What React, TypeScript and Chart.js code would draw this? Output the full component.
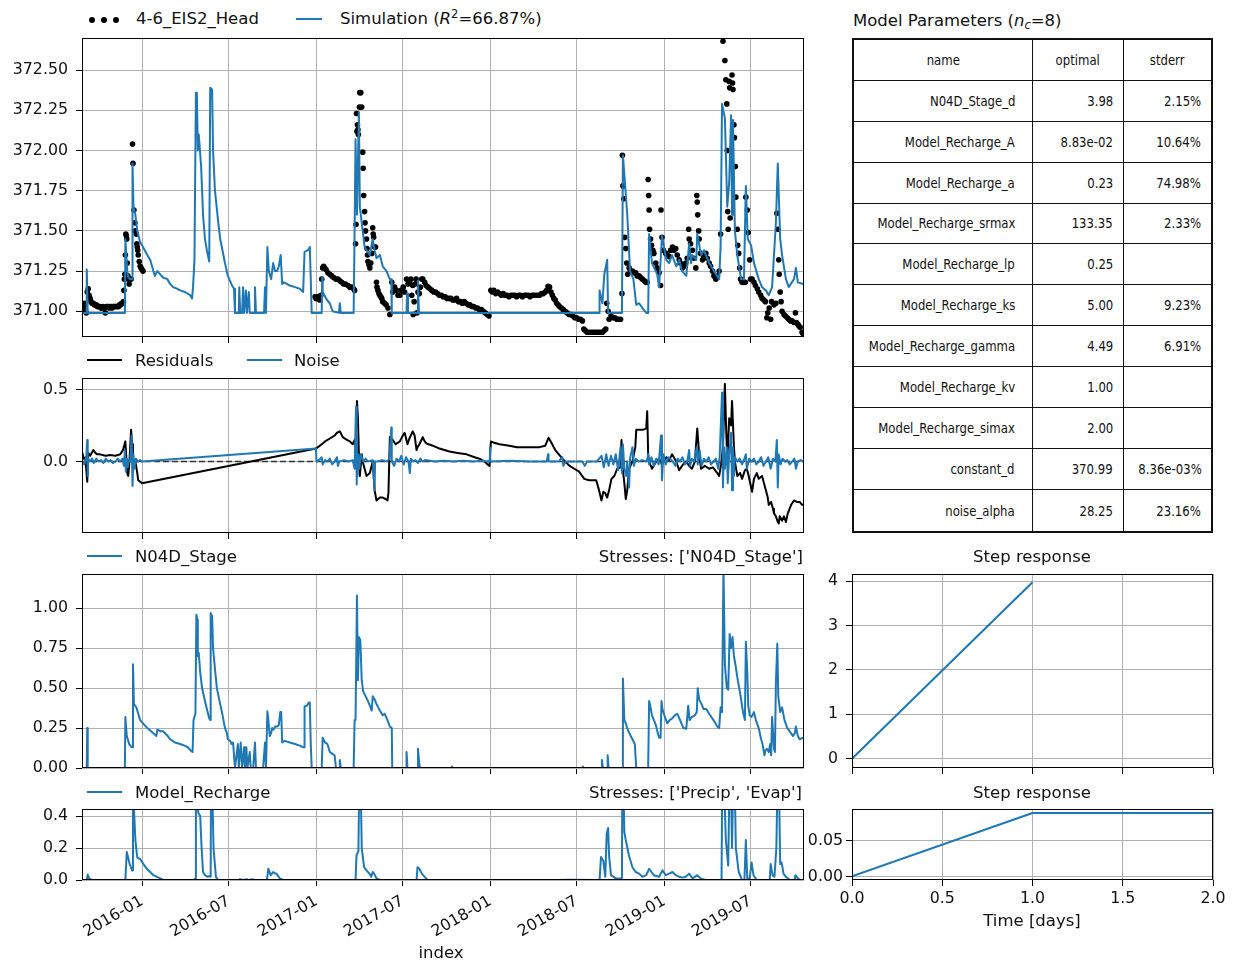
import { useEffect, useRef } from "react";
import { Chart, registerables } from "chart.js";

Chart.register(...registerables);

const FONT_FAMILY = "'DejaVu Sans', 'Liberation Sans', sans-serif";
const FONT_SIZE = 15.8;
const LABEL_SIZE = 16.5;
const TEXT = "#111";
const BLUE = "#1f77b4";
const GRID = "#b0b0b0";

type Pt = [number, number];

// Time index: whole days counted from the first day of the series.
const SERIES_START = "2015-08-28";
const DAY_COUNT = 1515;
const monthTicks = ["2016-01", "2016-07", "2017-01", "2017-07", "2018-01", "2018-07", "2019-01", "2019-07"];

// Observed head (4-6_EIS2_Head)
const headObs: Pt[] = [
  [1, 371.05], [2, 371.02], [3, 371.0], [5, 371.03], [7, 371.05], [9, 370.99], [11, 371.12], [13, 371.14], [15, 371.1], [17, 371.08],
  [19, 371.06], [21, 371.05], [24, 371.05], [26, 371.04], [28, 371.04], [30, 371.04], [32, 371.03], [34, 371.03], [36, 371.03], [38, 371.03],
  [40, 371.02], [42, 371.02], [44, 371.03], [47, 371.02], [49, 370.99], [51, 371.03], [53, 371.03], [55, 371.03], [57, 371.02], [59, 371.03],
  [61, 371.03], [63, 371.02], [65, 371.03], [67, 371.03], [69, 371.03], [71, 371.03], [73, 371.03], [75, 371.03], [77, 371.03], [79, 371.04],
  [81, 371.04], [83, 371.05], [85, 371.05], [87, 371.06], [88, 371.13], [89, 371.2], [90, 371.23], [91, 371.35], [92, 371.48], [93, 371.47],
  [94, 371.45], [95, 371.3], [96, 371.22], [97, 371.2], [99, 371.17], [101, 371.2], [103, 371.2], [106, 372.04], [107, 371.92], [109, 371.63],
  [111, 371.55], [112, 371.5], [114, 371.48], [115, 371.42], [116, 371.4], [117, 371.38], [118, 371.35], [120, 371.31], [122, 371.28], [124, 371.27],
  [126, 371.26], [128, 371.25],
  [489, 371.09], [491, 371.08], [493, 371.08], [495, 371.09], [497, 371.08], [499, 371.07], [501, 371.1], [503, 371.2], [505, 371.27], [507, 371.28],
  [509, 371.27], [512, 371.26], [516, 371.24], [520, 371.23], [524, 371.22], [528, 371.21], [533, 371.2], [537, 371.2], [541, 371.19], [545, 371.18],
  [549, 371.17], [553, 371.17], [558, 371.16], [562, 371.15], [566, 371.15], [570, 371.14], [572, 371.13], [574, 371.42], [575, 371.54], [576, 372.23],
  [577, 372.12], [578, 372.16], [579, 372.13], [580, 372.1], [582, 372.27], [583, 372.36], [585, 372.36], [587, 372.27], [589, 371.99], [590, 371.89],
  [591, 371.72], [593, 371.62], [594, 371.55], [595, 371.5], [597, 371.45], [598, 371.39], [599, 371.35], [600, 371.31], [602, 371.29], [604, 371.27],
  [606, 371.3], [608, 371.36], [610, 371.52], [611, 371.48], [612, 371.46], [614, 371.4], [616, 371.4], [618, 371.18], [619, 371.15], [621, 371.13],
  [623, 371.11], [625, 371.1], [627, 371.09], [629, 371.08], [631, 371.06], [635, 371.05], [638, 371.04], [642, 371.02], [646, 370.98], [650, 371.18],
  [652, 371.12], [656, 371.15], [660, 371.13], [663, 371.1], [667, 371.1], [670, 371.13], [674, 371.15], [677, 371.12], [681, 371.2], [684, 371.17],
  [687, 371.18], [690, 371.2], [692, 371.1], [694, 371.16], [695, 370.98], [697, 371.06], [699, 371.17], [701, 371.2], [703, 370.99], [705, 371.12],
  [708, 371.11], [710, 371.15], [713, 371.2], [715, 371.2],
  [719, 371.18], [722, 371.16], [726, 371.15], [730, 371.14], [734, 371.13], [738, 371.12], [742, 371.12], [746, 371.11], [750, 371.1], [754, 371.1],
  [758, 371.09], [762, 371.09], [766, 371.08], [770, 371.08], [774, 371.08], [778, 371.07], [782, 371.07], [786, 371.08], [790, 371.06], [794, 371.06],
  [798, 371.05], [802, 371.06], [806, 371.05], [810, 371.04], [814, 371.04], [818, 371.03], [822, 371.03], [826, 371.02], [830, 371.02], [834, 371.01],
  [838, 371.01], [842, 371.0], [846, 370.99], [850, 370.98], [854, 370.97],
  [858, 371.13], [861, 371.12], [864, 371.13], [868, 371.11], [872, 371.12], [876, 371.11], [880, 371.1], [884, 371.11], [888, 371.1], [892, 371.1],
  [896, 371.09], [900, 371.1], [904, 371.1], [908, 371.1], [912, 371.09], [916, 371.1], [920, 371.1], [924, 371.09], [928, 371.1], [932, 371.1],
  [936, 371.1], [940, 371.09], [944, 371.1], [948, 371.1], [952, 371.1], [956, 371.1], [960, 371.1], [964, 371.11], [968, 371.11], [972, 371.12],
  [975, 371.13], [978, 371.155], [981, 371.15], [984, 371.12], [987, 371.1], [990, 371.08], [993, 371.07], [996, 371.05], [999, 371.04], [1002, 371.03],
  [1006, 371.02], [1010, 371.01], [1014, 371.0], [1018, 370.99], [1022, 370.98], [1026, 370.98], [1030, 370.97], [1034, 370.96], [1038, 370.96], [1042, 370.95],
  [1046, 370.95], [1050, 370.94], [1053, 370.89], [1056, 370.88], [1060, 370.87], [1064, 370.87], [1068, 370.87], [1072, 370.87], [1076, 370.87], [1080, 370.87],
  [1084, 370.87], [1088, 370.87], [1092, 370.87], [1096, 370.88], [1099, 370.89], [1101, 371.05], [1104, 371.0], [1106, 370.95], [1110, 370.97], [1114, 370.96],
  [1118, 370.96], [1122, 370.95], [1126, 370.95],
  [1130, 370.95], [1133, 371.11], [1134, 371.97], [1135, 371.78], [1137, 371.7], [1139, 371.46], [1141, 371.39], [1143, 371.3], [1145, 371.23], [1148, 371.27],
  [1151, 371.25], [1155, 371.25], [1158, 371.24], [1162, 371.24], [1165, 371.22], [1169, 371.22], [1172, 371.21], [1176, 371.2], [1180, 371.19], [1183, 371.18],
  [1186, 371.18], [1188, 371.82], [1189, 371.72], [1190, 371.63], [1191, 371.51], [1193, 371.45], [1195, 371.41], [1198, 371.38], [1200, 371.36], [1204, 371.3],
  [1207, 371.27], [1211, 371.24], [1214, 371.16], [1215, 371.63], [1217, 371.46], [1220, 371.38], [1225, 371.36], [1228, 371.35], [1232, 371.34], [1235, 371.38],
  [1239, 371.4], [1242, 371.38], [1246, 371.39], [1249, 371.35], [1253, 371.32], [1256, 371.3], [1260, 371.27], [1263, 371.28], [1267, 371.3], [1270, 371.33],
  [1273, 371.51], [1274, 371.45], [1277, 371.42], [1281, 371.38], [1284, 371.33], [1288, 371.27], [1290, 371.72], [1291, 371.68], [1292, 371.6], [1294, 371.5],
  [1295, 371.45], [1298, 371.36], [1302, 371.32], [1305, 371.34], [1309, 371.36], [1312, 371.33], [1316, 371.3], [1319, 371.28], [1323, 371.25], [1326, 371.22],
  [1330, 371.2], [1333, 371.22], [1337, 371.25], [1340, 371.48], [1345, 372.68], [1349, 372.56], [1351, 372.44], [1353, 372.29], [1354, 372.0], [1355, 371.62],
  [1356, 371.51], [1358, 372.43], [1359, 372.39], [1360, 371.58], [1364, 372.47], [1365, 372.42], [1366, 372.38], [1368, 372.16], [1369, 372.08], [1371, 371.9],
  [1372, 371.71], [1375, 371.51], [1376, 371.41], [1378, 371.36], [1380, 371.27], [1382, 371.2], [1385, 371.18], [1389, 371.18], [1392, 371.18], [1393, 371.71],
  [1396, 371.63], [1398, 371.49], [1401, 371.32], [1403, 371.2], [1406, 371.2], [1410, 371.18], [1413, 371.16], [1417, 371.14], [1420, 371.12], [1424, 371.1],
  [1427, 371.08], [1431, 371.07], [1434, 371.06], [1437, 370.96], [1439, 370.99], [1442, 371.02], [1445, 370.95], [1447, 371.06], [1452, 371.04], [1456, 371.05],
  [1458, 371.61], [1460, 371.51], [1462, 371.32], [1463, 371.23], [1465, 371.12], [1467, 371.06], [1469, 371.0], [1473, 370.98], [1476, 370.97], [1480, 370.96],
  [1483, 370.95], [1487, 370.94], [1490, 370.94], [1494, 370.93], [1497, 370.99], [1499, 370.93], [1502, 370.92], [1504, 370.91], [1507, 370.9], [1511, 370.87],
  [1513, 370.86],
];

// Simulated head
const simulation: Pt[] = [
  [1, 370.99], [9, 370.99], [10, 371.26], [12, 370.99], [90, 370.99], [91, 371.45], [93, 371.35], [95, 371.25], [97, 371.21], [101, 371.2],
  [105, 371.2], [106, 371.92], [108, 371.65], [112, 371.6], [116, 371.5], [122, 371.43], [128, 371.4], [137, 371.35], [143, 371.32], [147, 371.28],
  [153, 371.22], [158, 371.25], [164, 371.23], [170, 371.21], [179, 371.2], [185, 371.17], [191, 371.15], [200, 371.14], [206, 371.13], [216, 371.12],
  [227, 371.1], [231, 371.08], [233, 371.15], [236, 371.32], [239, 372.36], [241, 372.36], [243, 372.0], [245, 372.1], [250, 371.9], [254, 371.6],
  [258, 371.45], [262, 371.38], [267, 371.31], [269, 372.39], [273, 372.38], [275, 372.0], [279, 371.75], [286, 371.55], [290, 371.45], [300, 371.3],
  [306, 371.22], [315, 371.16], [319, 371.14], [321, 370.99], [329, 370.99], [330, 371.15], [332, 370.99], [336, 370.99], [338, 371.15], [340, 370.99],
  [344, 371.13], [346, 370.99], [350, 371.12], [352, 370.99], [361, 370.99], [363, 371.15], [365, 370.99], [382, 370.99], [384, 371.15], [386, 370.99],
  [389, 371.4], [392, 371.25], [397, 371.2], [401, 371.3], [405, 371.25], [409, 371.25], [413, 371.28], [417, 371.35], [420, 371.17], [424, 371.18],
  [436, 371.16], [447, 371.15], [457, 371.14], [464, 371.12], [467, 371.37], [474, 371.38], [478, 371.4], [480, 371.2], [482, 370.99], [503, 370.99],
  [504, 371.21], [505, 371.12], [514, 371.07], [520, 371.05], [526, 371.0], [539, 370.99], [541, 371.05], [543, 370.99], [570, 370.99], [572, 371.5],
  [574, 372.07], [577, 371.6], [581, 372.24], [583, 371.65], [585, 371.6], [589, 371.5], [593, 371.4], [604, 371.35], [610, 371.45], [614, 371.38],
  [618, 371.33], [625, 371.35], [631, 371.28], [639, 371.25], [646, 371.2], [649, 371.2], [650, 370.99], [681, 370.99], [682, 371.11], [684, 370.99],
  [704, 370.99], [705, 371.19], [707, 370.99], [1085, 370.99], [1086, 371.13], [1092, 371.05], [1096, 371.23], [1102, 371.32], [1104, 370.99], [1133, 370.99],
  [1135, 371.97], [1144, 371.61], [1150, 371.25], [1157, 371.2], [1163, 371.04], [1169, 371.05], [1176, 371.02], [1184, 370.99], [1188, 370.99], [1190, 371.48],
  [1196, 371.3], [1207, 371.23], [1211, 371.15], [1217, 371.47], [1226, 371.32], [1232, 371.3], [1238, 371.35], [1247, 371.28], [1253, 371.32], [1259, 371.25],
  [1268, 371.22], [1274, 371.42], [1278, 371.3], [1280, 371.35], [1289, 371.32], [1291, 371.48], [1299, 371.35], [1305, 371.38], [1316, 371.3], [1326, 371.25],
  [1337, 371.2], [1340, 371.4], [1343, 372.29], [1349, 372.2], [1354, 371.65], [1358, 371.8], [1362, 372.22], [1364, 371.6], [1366, 372.19], [1370, 371.5],
  [1375, 371.35], [1383, 371.2], [1389, 371.2], [1393, 371.78], [1397, 371.45], [1404, 371.41], [1410, 371.3], [1420, 371.2], [1427, 371.15], [1435, 371.13],
  [1441, 371.1], [1448, 371.15], [1456, 371.55], [1460, 371.92], [1465, 371.45], [1469, 371.35], [1477, 371.2], [1483, 371.15], [1494, 371.2], [1498, 371.27],
  [1502, 371.18], [1513, 371.17],
];

// Residuals (observed minus simulated)
const residuals: Pt[] = [
  [1, 0.06], [3, 0.02], [7, 0.03], [11, -0.14], [13, 0.06], [17, 0.04], [24, 0.08], [28, 0.06], [32, 0.05], [38, 0.05],
  [49, 0.04], [59, 0.045], [70, 0.04], [80, 0.05], [86, 0.08], [91, 0.14], [93, 0.03], [95, -0.08], [97, -0.1], [99, -0.03],
  [103, 0.22], [105, 0.12], [107, -0.03], [112, 0.0], [116, -0.08], [118, -0.13], [126, -0.15],
  [491, 0.09], [495, 0.1], [503, 0.12], [510, 0.14], [520, 0.16], [530, 0.18], [535, 0.2], [541, 0.21], [547, 0.17], [556, 0.15],
  [562, 0.14], [568, 0.12], [572, 0.15], [574, 0.1], [577, 0.42], [579, 0.3], [581, 0.05], [583, -0.1], [587, 0.05], [589, 0.0],
  [593, -0.05], [597, -0.1], [604, -0.08], [610, 0.0], [614, -0.2], [618, -0.27], [625, -0.25], [631, -0.25], [637, -0.26], [641, -0.27],
  [643, -0.22], [646, 0.17], [652, 0.15], [658, 0.12], [667, 0.14], [673, 0.18], [677, 0.2], [683, 0.12], [687, 0.16], [694, 0.21],
  [698, 0.18], [702, 0.08], [704, 0.1], [708, 0.12], [715, 0.17], [719, 0.14], [723, 0.125], [736, 0.11], [750, 0.09], [771, 0.07],
  [788, 0.06], [807, 0.05], [824, 0.03], [834, 0.02], [845, 0.0], [851, -0.02], [855, -0.03], [858, 0.14], [865, 0.13], [876, 0.12],
  [897, 0.11], [912, 0.1], [928, 0.1], [945, 0.1], [960, 0.1], [972, 0.11], [979, 0.165], [985, 0.13], [993, 0.08], [1008, 0.02],
  [1023, -0.03], [1033, -0.05], [1043, -0.07], [1054, -0.12], [1064, -0.13], [1079, -0.13], [1085, -0.2], [1090, -0.27], [1094, -0.21], [1098, -0.22],
  [1102, -0.25], [1106, -0.2], [1111, -0.12], [1117, -0.1], [1123, -0.05], [1130, -0.04], [1132, 0.15], [1134, -0.03], [1138, -0.15], [1141, -0.26],
  [1144, -0.2], [1148, -0.05], [1155, 0.0], [1161, 0.1], [1163, 0.22], [1169, 0.22], [1177, 0.22], [1184, 0.23], [1186, 0.35], [1188, 0.05],
  [1190, 0.0], [1196, -0.05], [1205, 0.0], [1211, 0.02], [1217, -0.02], [1226, 0.03], [1232, 0.01], [1238, 0.05], [1247, 0.0], [1253, -0.06],
  [1261, -0.02], [1268, 0.0], [1274, -0.03], [1280, -0.05], [1286, 0.0], [1291, 0.23], [1295, 0.05], [1299, -0.05], [1307, -0.03], [1316, -0.05],
  [1324, -0.04], [1333, -0.08], [1337, -0.1], [1341, -0.02], [1345, 0.1], [1349, 0.54], [1351, 0.3], [1354, 0.0], [1358, 0.3], [1362, 0.25],
  [1364, 0.42], [1368, 0.1], [1370, 0.0], [1375, -0.1], [1381, -0.08], [1385, -0.12], [1391, -0.06], [1395, -0.05], [1399, -0.1], [1406, -0.21],
  [1410, -0.12], [1416, -0.08], [1420, -0.12], [1427, -0.1], [1431, -0.15], [1435, -0.2], [1439, -0.25], [1441, -0.3], [1446, -0.28], [1450, -0.33],
  [1452, -0.36], [1456, -0.38], [1460, -0.42], [1462, -0.43], [1464, -0.38], [1469, -0.41], [1473, -0.38], [1477, -0.42], [1481, -0.36], [1488, -0.3],
  [1494, -0.27], [1500, -0.28], [1506, -0.28], [1511, -0.3], [1513, -0.3],
];

// Noise model output
const noise: Pt[] = [
  [1, 0.0], [5, -0.02], [9, 0.03], [11, 0.15], [12, -0.1], [13, 0.02], [17, 0.0], [21, 0.02], [25, -0.01], [30, 0.02],
  [35, 0.0], [40, 0.01], [45, -0.01], [50, 0.02], [55, 0.0], [60, 0.01], [65, -0.01], [70, 0.0], [75, 0.02], [80, 0.0],
  [85, 0.02], [88, -0.03], [90, 0.08], [92, -0.07], [94, 0.02], [96, -0.04], [98, 0.0], [101, 0.0], [104, 0.18], [106, -0.17],
  [108, 0.05], [110, -0.05], [113, 0.02], [118, 0.0], [122, 0.01], [126, 0.0],
  [491, 0.09], [492, 0.0], [497, 0.01], [503, 0.03], [505, -0.02], [510, 0.01], [515, 0.0], [520, 0.02], [525, -0.02], [530, 0.0],
  [535, 0.03], [537, -0.03], [540, 0.0], [550, 0.01], [560, 0.0], [568, 0.01], [572, -0.05], [573, 0.1], [575, 0.38], [576, -0.16],
  [577, 0.2], [578, -0.1], [580, 0.05], [582, -0.05], [585, 0.05], [590, 0.0], [595, 0.02], [600, 0.0], [610, 0.01], [614, -0.2],
  [615, 0.0], [620, 0.0], [630, 0.01], [640, 0.0], [645, 0.02], [649, 0.236], [650, 0.0], [655, -0.03], [660, 0.02], [665, 0.0],
  [670, 0.04], [675, -0.02], [680, 0.03], [685, 0.0], [688, -0.08], [690, 0.02], [695, 0.0], [700, 0.01], [705, -0.01], [710, 0.02],
  [715, 0.0], [720, 0.01], [740, 0.0], [760, 0.005], [780, 0.0], [800, 0.005], [820, 0.0], [840, 0.005], [855, 0.0], [856, 0.1],
  [857, 0.0], [900, 0.005], [940, 0.0], [975, 0.0], [978, 0.05], [979, 0.0], [1000, 0.0], [1008, 0.03], [1010, -0.03], [1015, 0.0],
  [1050, 0.0], [1055, -0.03], [1060, 0.0], [1080, 0.0], [1090, 0.04], [1095, -0.04], [1100, 0.05], [1105, -0.03], [1110, 0.04], [1115, -0.02],
  [1120, 0.05], [1125, -0.06], [1130, 0.1], [1133, -0.08], [1135, 0.12], [1138, -0.05], [1142, -0.1], [1144, 0.0], [1148, -0.18], [1150, 0.02],
  [1155, 0.1], [1158, -0.03], [1162, 0.02], [1168, 0.0], [1175, 0.01], [1185, 0.0], [1188, 0.05], [1190, -0.02], [1195, 0.03], [1200, -0.03],
  [1205, 0.02], [1210, -0.02], [1215, 0.18], [1217, -0.13], [1220, 0.05], [1225, -0.02], [1230, 0.03], [1240, 0.0], [1245, -0.03], [1250, 0.02],
  [1255, 0.0], [1260, 0.03], [1265, -0.02], [1270, 0.0], [1274, 0.08], [1276, -0.03], [1280, 0.02], [1285, 0.0], [1290, 0.1], [1292, -0.02],
  [1296, 0.08], [1300, -0.03], [1305, 0.02], [1310, 0.0], [1315, 0.03], [1320, -0.02], [1325, 0.0], [1330, 0.02], [1335, -0.05], [1338, 0.03],
  [1343, 0.48], [1345, -0.18], [1347, 0.1], [1349, -0.05], [1353, 0.1], [1355, -0.15], [1358, 0.05], [1362, 0.2], [1364, -0.2], [1366, 0.1],
  [1368, -0.1], [1370, 0.03], [1375, 0.0], [1380, 0.02], [1385, -0.02], [1390, 0.02], [1393, 0.05], [1395, -0.05], [1400, 0.02], [1405, 0.0],
  [1410, 0.02], [1415, -0.02], [1420, 0.0], [1425, 0.03], [1430, -0.03], [1435, 0.0], [1440, 0.03], [1445, -0.05], [1450, 0.02], [1455, 0.0],
  [1458, 0.15], [1460, -0.18], [1462, 0.05], [1466, -0.02], [1470, 0.02], [1475, 0.0], [1480, 0.01], [1485, -0.02], [1490, 0.0], [1495, 0.02],
  [1498, -0.05], [1502, 0.0], [1508, 0.01], [1513, 0.0],
];

// Contribution of N04D_Stage
const stageContribution: Pt[] = [
  [1, 0.0], [10, 0.0], [11, 0.25], [12, 0.0], [90, 0.0], [91, 0.32], [94, 0.2], [99, 0.15], [104, 0.13], [106, 0.13],
  [107, 0.65], [109, 0.4], [114, 0.38], [116, 0.36], [122, 0.3], [128, 0.28], [137, 0.25], [145, 0.23], [149, 0.22], [156, 0.2],
  [158, 0.24], [165, 0.23], [170, 0.23], [180, 0.2], [185, 0.18], [195, 0.16], [206, 0.15], [215, 0.14], [222, 0.13], [228, 0.11],
  [232, 0.1], [234, 0.3], [238, 0.34], [240, 0.96], [242, 0.93], [243, 0.7], [245, 0.72], [248, 0.6], [252, 0.5], [258, 0.42],
  [262, 0.37], [267, 0.31], [269, 0.3], [270, 0.97], [273, 0.95], [275, 0.75], [279, 0.62], [283, 0.5], [290, 0.4], [295, 0.33],
  [300, 0.25], [304, 0.22], [306, 0.18], [311, 0.17], [314, 0.15], [317, 0.16], [321, 0.0], [327, 0.15], [329, 0.0], [333, 0.16],
  [336, 0.0], [340, 0.13], [342, 0.0], [345, 0.13], [347, 0.0], [352, 0.1], [354, 0.0], [359, 0.0], [363, 0.16], [365, 0.0],
  [380, 0.0], [384, 0.16], [386, 0.0], [389, 0.355], [391, 0.3], [394, 0.2], [397, 0.22], [399, 0.25], [402, 0.24], [405, 0.26],
  [410, 0.26], [413, 0.27], [416, 0.35], [418, 0.35], [420, 0.16], [425, 0.17], [436, 0.16], [447, 0.15], [457, 0.14], [464, 0.13],
  [466, 0.13], [467, 0.385], [472, 0.39], [476, 0.41], [478, 0.41], [480, 0.15], [482, 0.0], [503, 0.0], [505, 0.19], [510, 0.16],
  [515, 0.15], [520, 0.1], [525, 0.09], [530, 0.08], [533, 0.0], [540, 0.0], [541, 0.05], [543, 0.0], [570, 0.0], [572, 0.3],
  [574, 0.3], [577, 1.08], [579, 0.55], [581, 0.82], [584, 0.8], [587, 0.55], [590, 0.48], [595, 0.45], [600, 0.42], [608, 0.36],
  [610, 0.45], [614, 0.43], [618, 0.4], [625, 0.36], [631, 0.33], [635, 0.34], [641, 0.3], [646, 0.26], [650, 0.25], [651, 0.0],
  [680, 0.0], [681, 0.1], [683, 0.0], [704, 0.0], [705, 0.12], [707, 0.05], [709, 0.0], [775, 0.0], [776, 0.01], [777, 0.0],
  [1050, 0.0], [1051, 0.01], [1052, 0.0], [1090, 0.0], [1091, 0.05], [1093, 0.0], [1102, 0.0], [1103, 0.08], [1105, 0.0], [1134, 0.0],
  [1135, 0.56], [1138, 0.3], [1141, 0.28], [1144, 0.25], [1148, 0.22], [1155, 0.18], [1160, 0.15], [1163, 0.0], [1188, 0.0], [1190, 0.42],
  [1193, 0.38], [1196, 0.33], [1200, 0.3], [1204, 0.27], [1208, 0.22], [1211, 0.19], [1214, 0.19], [1216, 0.42], [1218, 0.37], [1222, 0.33],
  [1228, 0.28], [1233, 0.3], [1238, 0.31], [1244, 0.33], [1249, 0.34], [1255, 0.3], [1262, 0.25], [1268, 0.246], [1272, 0.39], [1275, 0.3],
  [1280, 0.32], [1286, 0.33], [1290, 0.35], [1292, 0.5], [1295, 0.43], [1300, 0.4], [1304, 0.37], [1310, 0.37], [1316, 0.34], [1325, 0.3],
  [1333, 0.26], [1337, 0.25], [1340, 0.38], [1343, 0.35], [1346, 1.25], [1349, 0.65], [1353, 0.5], [1356, 0.49], [1359, 0.84], [1362, 0.75],
  [1365, 0.82], [1368, 0.7], [1371, 0.65], [1376, 0.55], [1382, 0.45], [1387, 0.35], [1391, 0.3], [1393, 0.79], [1396, 0.6], [1398, 0.39],
  [1401, 0.33], [1405, 0.32], [1410, 0.35], [1414, 0.3], [1420, 0.25], [1425, 0.18], [1428, 0.15], [1432, 0.08], [1434, 0.11], [1437, 0.12],
  [1441, 0.1], [1444, 0.15], [1446, 0.08], [1448, 0.32], [1452, 0.12], [1454, 0.1], [1456, 0.53], [1459, 0.78], [1461, 0.45], [1465, 0.35],
  [1469, 0.38], [1474, 0.3], [1480, 0.25], [1486, 0.225], [1492, 0.2], [1496, 0.22], [1498, 0.26], [1502, 0.2], [1506, 0.18], [1513, 0.19],
];

// Contribution of Model_Recharge
const rechargeContribution: Pt[] = [
  [1, 0.0], [10, 0.0], [12, 0.034], [15, 0.01], [21, 0.0], [91, 0.0], [94, 0.175], [100, 0.1], [105, 0.06], [107, 0.7],
  [109, 0.45], [112, 0.25], [116, 0.14], [122, 0.13], [136, 0.07], [150, 0.03], [164, 0.01], [171, 0.0],
  [235, 0.0], [238, 0.01], [239, 0.7], [244, 0.42], [248, 0.4], [251, 0.2], [254, 0.05], [258, 0.03], [264, 0.02], [268, 0.025],
  [270, 0.02], [271, 0.9], [276, 0.2], [281, 0.02], [286, 0.0], [330, 0.0], [331, 0.005], [340, 0.0], [345, 0.005], [350, 0.0],
  [358, 0.004], [365, 0.0], [388, 0.0], [391, 0.07], [396, 0.03], [401, 0.05], [405, 0.04], [408, 0.04], [415, 0.01], [422, 0.0],
  [574, 0.0], [576, 0.155], [580, 0.18], [583, 0.9], [587, 0.2], [592, 0.08], [597, 0.06], [603, 0.04], [607, 0.02], [610, 0.05],
  [613, 0.04], [618, 0.01], [625, 0.0], [702, 0.0], [704, 0.08], [708, 0.07], [713, 0.04], [719, 0.02], [725, 0.0], [1000, 0.0],
  [1020, 0.002], [1086, 0.0], [1089, 0.144], [1094, 0.12], [1098, 0.02], [1101, 0.29], [1104, 0.325], [1106, 0.15], [1110, 0.03], [1120, 0.01],
  [1131, 0.01], [1133, 0.0], [1134, 0.9], [1138, 0.3], [1141, 0.25], [1148, 0.15], [1155, 0.08], [1162, 0.05], [1169, 0.04], [1176, 0.02],
  [1184, 0.03], [1190, 0.07], [1195, 0.05], [1200, 0.03], [1205, 0.025], [1211, 0.02], [1218, 0.06], [1225, 0.03], [1232, 0.04], [1239, 0.05],
  [1246, 0.03], [1253, 0.02], [1260, 0.015], [1267, 0.02], [1274, 0.04], [1281, 0.01], [1286, 0.02], [1291, 0.03], [1298, 0.01], [1308, 0.0],
  [1342, 0.0], [1344, 0.9], [1351, 0.25], [1356, 0.09], [1360, 0.9], [1364, 0.2], [1368, 0.9], [1372, 0.2], [1378, 0.05], [1385, 0.0],
  [1390, 0.0], [1393, 0.25], [1396, 0.01], [1401, 0.01], [1405, 0.11], [1409, 0.03], [1416, 0.0], [1443, 0.0], [1445, 0.1], [1449, 0.03],
  [1453, 0.02], [1457, 0.2], [1461, 0.9], [1465, 0.1], [1468, 0.11], [1472, 0.04], [1477, 0.02], [1486, 0.0], [1495, 0.0], [1497, 0.03],
  [1502, 0.01], [1508, 0.0], [1513, 0.0],
];

// Step responses (time in days)
const stageStep: Pt[] = [[0, 0], [1, 3.98]];
const rechargeStep: Pt[] = [[0, 0], [1, 0.0883], [2, 0.0883]];

// Axis ticks
const headTicks = [371.0, 371.25, 371.5, 371.75, 372.0, 372.25, 372.5];
const residualTicks = [0.0, 0.5];
const stageTicks = [0.0, 0.25, 0.5, 0.75, 1.0];
const rechargeTicks = [0.0, 0.2, 0.4];
const stepTimeTicks = [0.0, 0.5, 1.0, 1.5, 2.0];
const stageStepTicks = [0, 1, 2, 3, 4];
const rechargeStepTicks = [0.0, 0.05];

// Parameter table
const paramNames = [
  "N04D_Stage_d", "Model_Recharge_A", "Model_Recharge_a", "Model_Recharge_srmax", "Model_Recharge_lp",
  "Model_Recharge_ks", "Model_Recharge_gamma", "Model_Recharge_kv", "Model_Recharge_simax", "constant_d", "noise_alpha",
];
const paramOptimal = ["3.98", "8.83e-02", "0.23", "133.35", "0.25", "5.00", "4.49", "1.00", "2.00", "370.99", "28.25"];
const paramStderr = ["2.15%", "10.64%", "74.98%", "2.33%", "", "9.23%", "6.91%", "", "", "8.36e-03%", "23.16%"];

function dayOf(ym: string): number {
  const [y, m] = ym.split("-").map(Number);
  const [sy, sm, sd] = SERIES_START.split("-").map(Number);
  return (Date.UTC(y, m - 1, 1) - Date.UTC(sy, sm - 1, sd)) / 86400000;
}

const tickFont = { family: FONT_FAMILY, size: FONT_SIZE };

// Draws the full axes box on top of the plotted data.
const framePlugin = {
  id: "frame",
  afterDatasetsDraw(chart: any) {
    const { ctx, chartArea: a } = chart;
    ctx.save();
    ctx.strokeStyle = "#000";
    ctx.lineWidth = 1;
    ctx.strokeRect(a.left + 0.5, a.top + 0.5, a.right - a.left - 1, a.bottom - a.top - 1);
    ctx.restore();
  },
};

const gridOpts = { color: GRID, lineWidth: 1, tickColor: "#000", tickLength: 6, tickWidth: 1, drawTicks: true };

function timeAxis(showLabels: boolean, height: number) {
  return {
    type: "linear",
    min: 0,
    max: DAY_COUNT,
    afterBuildTicks: (s: any) => {
      s.ticks = monthTicks.map((t) => ({ value: dayOf(t) }));
    },
    afterFit: (s: any) => {
      s.height = height;
      s.paddingLeft = 0;
      s.paddingRight = 0;
    },
    grid: gridOpts,
    border: { display: false },
    ticks: {
      display: showLabels,
      autoSkip: false,
      minRotation: 30,
      maxRotation: 30,
      padding: 6,
      font: tickFont,
      color: TEXT,
      callback: (v: number) => monthTicks.find((t) => dayOf(t) === v) ?? "",
    },
  };
}

function valueAxis(min: number, max: number, ticks: number[], digits: number, width: number, showLabels = true, height?: number, pad = 8) {
  return {
    type: "linear",
    min,
    max,
    afterBuildTicks: (s: any) => {
      s.ticks = ticks.map((v) => ({ value: v }));
    },
    afterFit: (s: any) => {
      if (height !== undefined) {
        s.height = height;
        s.paddingLeft = 0;
        s.paddingRight = 0;
      } else {
        s.width = width;
        s.paddingTop = 0;
        s.paddingBottom = 0;
      }
    },
    grid: gridOpts,
    border: { display: false },
    ticks: {
      display: showLabels,
      autoSkip: false,
      maxRotation: 0,
      padding: height !== undefined ? 3 : pad,
      font: tickFont,
      color: TEXT,
      callback: (v: number) => Number(v).toFixed(digits),
    },
  };
}

function lineSet(data: Pt[], color: string, extra: Record<string, unknown> = {}) {
  return {
    data: data.map(([x, y]) => ({ x, y })),
    showLine: true,
    borderColor: color,
    backgroundColor: color,
    borderWidth: 2,
    pointRadius: 0,
    tension: 0,
    borderJoinStyle: "round",
    ...extra,
  };
}

function makeConfig(datasets: any[], x: any, y: any, padding: any) {
  return {
    type: "scatter",
    data: { datasets },
    options: {
      responsive: false,
      animation: false,
      events: [],
      layout: { padding },
      plugins: { legend: { display: false }, tooltip: { enabled: false }, title: { display: false } },
      scales: { x, y },
    },
    plugins: [framePlugin],
  };
}

function ChartPanel({ left, top, width, height, build }: { left: number; top: number; width: number; height: number; build: () => any }) {
  const ref = useRef<HTMLCanvasElement>(null);
  useEffect(() => {
    const chart = new Chart(ref.current as HTMLCanvasElement, build());
    return () => chart.destroy();
  }, []);
  return <canvas ref={ref} width={width} height={height} style={{ position: "absolute", left, top, width, height }} />;
}

function Txt({ x, y, align = "left", size = LABEL_SIZE, children }: { x: number; y: number; align?: "left" | "right" | "center"; size?: number; children: any }) {
  const tx = align === "left" ? "0" : align === "right" ? "-100%" : "-50%";
  return (
    <div
      style={{
        position: "absolute",
        left: x,
        top: y,
        transform: `translate(${tx}, -50%)`,
        whiteSpace: "nowrap",
        fontFamily: FONT_FAMILY,
        fontSize: size,
        lineHeight: 1.2,
        color: TEXT,
      }}
    >
      {children}
    </div>
  );
}

function LegendLine({ x, y, w, color }: { x: number; y: number; w: number; color: string }) {
  return <div style={{ position: "absolute", left: x, top: y - 1, width: w, height: 2, background: color }} />;
}

function Dot({ x, y }: { x: number; y: number }) {
  return <div style={{ position: "absolute", left: x - 3, top: y - 3, width: 6, height: 6, borderRadius: 3, background: "#000" }} />;
}

function ParamTable() {
  // Outer box 852..1213.3 x 37.7..533.3, inner lines 1.5px
  const outer = 2;
  const line = 1.5;
  const colWidths = [179, 91, 87.3];
  const rowCount = paramNames.length + 1;
  const rowH = (495.6 - 2 * outer) / rowCount;
  const header = ["name", "optimal", "stderr"];
  const rows = paramNames.map((n, i) => [n, paramOptimal[i], paramStderr[i]]);
  const cell = (text: string, key: string, col: number, row: number, align: "center" | "right") => (
    <div
      key={key}
      style={{
        width: colWidths[col],
        height: rowH,
        boxSizing: "border-box",
        borderRight: col < 2 ? `${line}px solid #111` : "none",
        borderBottom: row < rowCount - 1 ? `${line}px solid #111` : "none",
        display: "flex",
        alignItems: "center",
        justifyContent: align === "center" ? "center" : "flex-end",
        paddingRight: align === "right" ? (col === 0 ? 17 : 10) : 0,
        fontFamily: FONT_FAMILY,
        fontSize: 13.6,
        color: TEXT,
        background: "#fff",
        flex: "none",
      }}
    >
      <span style={{ display: "inline-block", transform: "scaleX(0.86)", transformOrigin: align === "center" ? "center" : "right", whiteSpace: "nowrap" }}>
        {text}
      </span>
    </div>
  );
  return (
    <div style={{ position: "absolute", left: 852, top: 37.7, width: 361.3, height: 495.6, border: `${outer}px solid #111`, boxSizing: "border-box" }}>
      <div style={{ display: "flex" }}>{header.map((h, j) => cell(h, `h${j}`, j, 0, "center"))}</div>
      {rows.map((r, i) => (
        <div key={i} style={{ display: "flex" }}>
          {r.map((t, j) => cell(t, `c${i}-${j}`, j, i + 1, "right"))}
        </div>
      ))}
    </div>
  );
}

export default function App() {
  return (
    <div style={{ position: "absolute", left: 0, top: 0, width: 1240, height: 961, background: "#fff", overflow: "hidden" }}>
      {/* Heads: observed and simulated */}
      <ChartPanel
        left={0}
        top={30}
        width={812}
        height={320}
        build={() =>
          makeConfig(
            [
              lineSet(simulation, BLUE),
              { data: headObs.map(([x, y]) => ({ x, y })), showLine: false, pointRadius: 2.8, pointBackgroundColor: "#000", pointBorderWidth: 0 },
            ],
            timeAxis(false, 13),
            valueAxis(370.84, 372.7, headTicks, 2, 82),
            { top: 8, right: 8, left: 0, bottom: 0 }
          )
        }
      />
      {/* Residuals and noise */}
      <ChartPanel
        left={0}
        top={370}
        width={812}
        height={175}
        build={() =>
          makeConfig(
            [
              lineSet(noise, BLUE),
              lineSet(residuals, "#000"),
              lineSet([[0, 0], [DAY_COUNT, 0]], "#333", { borderWidth: 1.5, borderDash: [6, 3] }),
            ],
            timeAxis(false, 12),
            valueAxis(-0.496, 0.58, residualTicks, 1, 82),
            { top: 8, right: 8, left: 0, bottom: 0 }
          )
        }
      />
      {/* N04D_Stage contribution */}
      <ChartPanel
        left={0}
        top={566}
        width={812}
        height={212}
        build={() =>
          makeConfig([lineSet(stageContribution, BLUE)], timeAxis(false, 10), valueAxis(0, 1.215, stageTicks, 2, 82), {
            top: 8,
            right: 8,
            left: 0,
            bottom: 0,
          })
        }
      />
      {/* Model_Recharge contribution */}
      <ChartPanel
        left={0}
        top={801}
        width={812}
        height={160}
        build={() =>
          makeConfig([lineSet(rechargeContribution, BLUE)], timeAxis(true, 81), valueAxis(0, 0.444, rechargeTicks, 1, 82), {
            top: 8,
            right: 8,
            left: 0,
            bottom: 0,
          })
        }
      />
      {/* Step response N04D_Stage */}
      <ChartPanel
        left={800}
        top={566}
        width={440}
        height={212}
        build={() =>
          makeConfig(
            [lineSet(stageStep, BLUE)],
            valueAxis(0, 2, stepTimeTicks, 1, 0, false, 10),
            valueAxis(-0.21, 4.164, stageStepTicks, 0, 52),
            { top: 8, right: 27, left: 0, bottom: 0 }
          )
        }
      />
      {/* Step response Model_Recharge */}
      <ChartPanel
        left={800}
        top={801}
        width={440}
        height={160}
        build={() =>
          makeConfig(
            [lineSet(rechargeStep, BLUE)],
            valueAxis(0, 2, stepTimeTicks, 1, 0, true, 81),
            valueAxis(-0.005, 0.0938, rechargeStepTicks, 2, 52, true, undefined, 3),
            { top: 8, right: 27, left: 0, bottom: 0 }
          )
        }
      />

      {/* Legends and titles */}
      <Dot x={92} y={20} />
      <Dot x={104} y={20} />
      <Dot x={116} y={20} />
      <Txt x={136} y={19}>4-6_EIS2_Head</Txt>
      <LegendLine x={296} y={19} w={26} color={BLUE} />
      <Txt x={340} y={19}>
        Simulation (<i>R</i>
        <span style={{ fontSize: "0.7em", position: "relative", top: "-0.55em" }}>2</span>=66.87%)
      </Txt>

      <LegendLine x={87} y={360} w={35} color="#000" />
      <Txt x={135} y={361}>Residuals</Txt>
      <LegendLine x={247} y={360} w={35} color={BLUE} />
      <Txt x={294} y={361}>Noise</Txt>

      <LegendLine x={87} y={556} w={35} color={BLUE} />
      <Txt x={135} y={557}>N04D_Stage</Txt>
      <Txt x={803} y={557} align="right">
        Stresses: ['N04D_Stage']
      </Txt>

      <LegendLine x={87} y={792} w={35} color={BLUE} />
      <Txt x={135} y={793}>Model_Recharge</Txt>
      <Txt x={802} y={793} align="right">
        Stresses: ['Precip', 'Evap']
      </Txt>

      <Txt x={853} y={21}>
        Model Parameters (<i>n</i>
        <span style={{ fontSize: "0.7em", position: "relative", top: "0.3em" }}>
          <i>c</i>
        </span>
        =8)
      </Txt>
      <Txt x={1032} y={557} align="center">
        Step response
      </Txt>
      <Txt x={1032} y={793} align="center">
        Step response
      </Txt>
      <Txt x={1032} y={921} align="center">
        Time [days]
      </Txt>
      <Txt x={441} y={953} align="center">
        index
      </Txt>

      <ParamTable />
    </div>
  );
}
